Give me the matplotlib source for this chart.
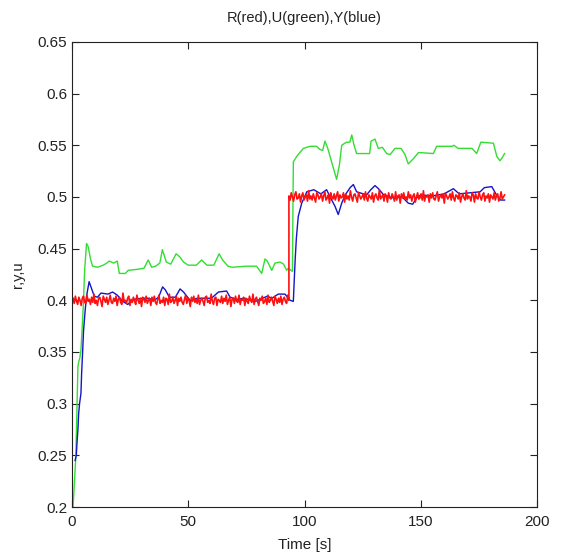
import numpy as np
import matplotlib
matplotlib.use('Agg')
import matplotlib.pyplot as plt
from matplotlib.ticker import MultipleLocator, FormatStrFormatter

plt.rcParams['font.family'] = ['Liberation Sans', 'DejaVu Sans']

# reference r: noisy level, deviations in 1e-3
r_level1 = 0.4
r_level2 = 0.5
r_start1 = 0.5
r_step = 93.3
r_end = 186.0
r_dev1 = [2, -3, 4, -1, -4, 3, 0, -5, 2, 4, -2, -3, 5, -1, 1, -4, 3, -2, 6, -3, 0, -5, 2, 3, -1,
          -6, 4, 1, -2, 3, -4, 0, 5, -2, -3, 2, -1, 4, -5, 1, 3, -2, -4, 7, -1, 0, -3, 2, 4, -5,
          1, -2, 3, -1, -4, 5, 0, -3, 2, -6, 3, 1, -2, 4, -3, 0, 2, -5, 3, -1, 4, -2, -4, 1, 5,
          -3, 0, -2, 3, -5, 2, 1, -4, 6, -2, -1, 3, -3, 0, 4, -5, 2, -1, 3, -2, -4, 1, 5, -3, 2,
          0, -6, 3, -1, 4, -2, 1, -3, 5, -4, 0, 2, -1, -5, 3, 4, -2, 0, -3, 6, -1, -4, 2, 3, -5,
          1, 0, -2, 4, -3, 2, -1, 5, -4, 0, 3, -6, 1, 2, -3, 4, -1, -2, 5, -4, 1, 0, 3, -5, 2,
          -1, -3, 4, 0, -2, 6, -4, 1, 3, -1, -5, 2, 0, 4, -3, -1, 2, -4, 5, -2, 0, 3, -1, -5, 4,
          1, -3, 2, -2, 4, -4, 1, 3, -1, -3, 5, 0]
r_dev2 = [1, -3, 4, 0, -4, 2, 5, -2, -1, 3, -5, 1, 4, -3, 0, 2, -4, 6, -2, 1, -3, 3, -1, -5, 4,
          2, -2, 0, 3, -4, 1, 5, -3, -1, 2, -6, 4, 0, -2, 3, -3, 1, 5, -4, 2, -1, 0, 4, -5, 3,
          -2, 1, -3, 6, 0, -4, 2, 3, -1, -5, 4, 1, -2, 0, 3, -3, 5, -1, -4, 2, 0, -2, 4, -5, 1,
          3, -1, -3, 7, -2, 0, 2, -4, 3, 1, -5, 4, -1, -2, 3, 0, -4, 5, -3, 1, 2, -6, 3, -1, 4,
          -2, 0, -3, 5, -1, 2, -4, 1, 3, -5, 0, 4, -2, -1, 3, -3, 6, -4, 1, 0, 2, -5, 3, -1, 4,
          -2, -3, 1, 5, -4, 0, 2, -1, 3, -6, 4, 1, -2, 0, 3, -3, 5, -1, -4, 2, 1, -2, 4, -5, 0,
          3, -1, -3, 6, -2, 1, 0, -4, 4, 2, -5, 3, -1, -2, 5, 0, -3, 2, 4, -4, 1, -1, 3, -5, 2,
          0, -2, 4, -3, 1, 3, -4, -1, 5, -2, 0, 2]

# U (green): time [s], value
u_t = [0.5, 1.7, 2.6, 3.0, 3.4, 3.9, 4.3, 4.9, 5.5, 6.3, 7.0, 8.0, 8.9, 11.0, 13.5, 15.0,
       16.0, 18.0, 19.5, 20.4, 23.0, 24.2, 28.2, 31.0, 32.8, 34.3, 36.0, 37.8, 38.9, 40.6,
       42.5, 44.8, 46.4, 48.0, 50.0, 53.5, 55.8, 58.0, 61.0, 63.3, 64.8, 67.1, 69.0, 75.0,
       79.4, 81.6, 83.0, 84.0, 85.9, 87.3, 89.5, 91.0, 92.3, 93.0, 94.8,
       95.2, 96.6, 98.0, 99.5, 102.4, 105.2, 106.6, 107.8, 108.8, 110.0, 112.4, 113.8, 115.0,
       116.0, 118.0, 119.5, 120.3, 121.3, 122.4, 128.0, 128.6, 130.3, 131.7, 133.5, 135.3,
       136.8, 138.9, 141.5, 143.2, 144.6, 146.8, 149.0, 155.4, 156.8, 163.5, 164.2, 166.0,
       172.0, 174.0, 175.8, 181.2, 182.7, 184.0, 185.0, 186.0]
u_v = [0.200, 0.249, 0.336, 0.341, 0.344, 0.352, 0.368, 0.394, 0.430, 0.455, 0.452, 0.440,
       0.433, 0.432, 0.434, 0.436, 0.438, 0.436, 0.438, 0.426, 0.426, 0.429, 0.430, 0.431,
       0.439, 0.432, 0.433, 0.436, 0.449, 0.437, 0.435, 0.445, 0.442, 0.437, 0.434, 0.434,
       0.439, 0.434, 0.434, 0.445, 0.439, 0.433, 0.432, 0.433, 0.433, 0.426, 0.440, 0.438,
       0.429, 0.436, 0.437, 0.435, 0.429, 0.431, 0.428,
       0.534, 0.539, 0.543, 0.547, 0.549, 0.549, 0.546, 0.545, 0.554, 0.547, 0.528, 0.517,
       0.531, 0.550, 0.553, 0.553, 0.560, 0.550, 0.542, 0.542, 0.554, 0.556, 0.547, 0.548,
       0.542, 0.541, 0.547, 0.547, 0.541, 0.532, 0.537, 0.543, 0.542, 0.549, 0.549, 0.550,
       0.547, 0.547, 0.542, 0.553, 0.552, 0.539, 0.535, 0.538, 0.542]

# Y (blue): time [s], value
y_t = [1.4, 1.9, 2.2, 2.6, 2.9, 3.3, 3.9, 4.2, 4.6, 5.0, 5.7, 6.3, 7.4, 8.2, 9.6, 11.0,
       12.5, 15.5, 17.5, 19.5, 21.8, 24.0, 26.5, 30.4, 33.0, 35.3, 37.3, 39.0, 40.2, 41.9,
       44.5, 46.5, 48.0, 50.8, 54.0, 60.0, 63.0, 66.5, 68.0, 71.0, 74.0, 79.0, 82.0, 84.0,
       86.0, 88.7, 91.6, 93.8, 95.2, 95.6, 96.0, 96.5, 97.3, 98.8, 101.0, 104.0, 107.0,
       109.5, 111.0, 113.1, 114.5, 116.0, 117.5, 119.6, 121.0, 122.4, 126.7, 128.5, 130.3,
       131.8, 134.0, 138.3, 142.0, 144.6, 146.5, 148.2, 150.0, 155.0, 160.0, 164.0, 166.5,
       171.0, 175.5, 177.3, 180.5, 182.5, 184.3, 186.0]
y_v = [0.245, 0.250, 0.262, 0.275, 0.290, 0.300, 0.310, 0.330, 0.349, 0.370, 0.390, 0.404,
       0.418, 0.413, 0.404, 0.403, 0.407, 0.406, 0.408, 0.405, 0.399, 0.396, 0.401, 0.402,
       0.402, 0.400, 0.403, 0.413, 0.410, 0.403, 0.403, 0.411, 0.408, 0.400, 0.402, 0.402,
       0.408, 0.409, 0.403, 0.401, 0.402, 0.399, 0.402, 0.404, 0.402, 0.406, 0.406, 0.400,
       0.399, 0.420, 0.440, 0.460, 0.481, 0.494, 0.505, 0.507, 0.503, 0.507, 0.500, 0.491,
       0.483, 0.494, 0.502, 0.509, 0.512, 0.505, 0.502, 0.507, 0.511, 0.508, 0.502, 0.499,
       0.500, 0.494, 0.493, 0.499, 0.502, 0.501, 0.503, 0.508, 0.503, 0.504, 0.505, 0.509,
       0.510, 0.502, 0.497, 0.497]

x_ticks = [0, 50, 100, 150, 200]

# build r from the two noisy levels, spread evenly over each interval
r1 = r_level1 + np.array(r_dev1) / 1000.0
r2 = r_level2 + np.array(r_dev2) / 1000.0
t1 = np.linspace(r_start1, r_step, len(r1))
t2 = np.linspace(r_step, r_end, len(r2))
r_t = np.concatenate([t1, t2])
r_v = np.concatenate([r1, r2])

fig = plt.figure(figsize=(5.66, 5.59), dpi=100)
ax = fig.add_axes([0.127, 0.093, 0.822, 0.832])

ax.plot(u_t, u_v, color='#33dd33', lw=1.0)
ax.plot(y_t, y_v, color='#1414c8', lw=1.0)
ax.plot(r_t, r_v, color='#ff1010', lw=1.2)

ax.set_xlim(0, 200)
ax.set_ylim(0.2, 0.65)
ax.set_xticks(x_ticks)
ax.yaxis.set_major_locator(MultipleLocator(0.05))
ax.yaxis.set_major_formatter(FormatStrFormatter('%g'))
ax.tick_params(direction='in', length=5, width=0.8, top=True, right=True,
               labelsize=11, colors='#222222')
ax.tick_params(axis='x', pad=6)
for s in ax.spines.values():
    s.set_linewidth(0.8)
    s.set_color('#222222')

ax.set_title('R(red),U(green),Y(blue)', fontsize=10.5, pad=14, color='#222222')
ax.set_xlabel('Time [s]', fontsize=11, labelpad=6, color='#222222')
ax.set_ylabel('r,y,u', fontsize=10.5, labelpad=9, color='#222222')

fig.savefig('out.png', dpi=100)
